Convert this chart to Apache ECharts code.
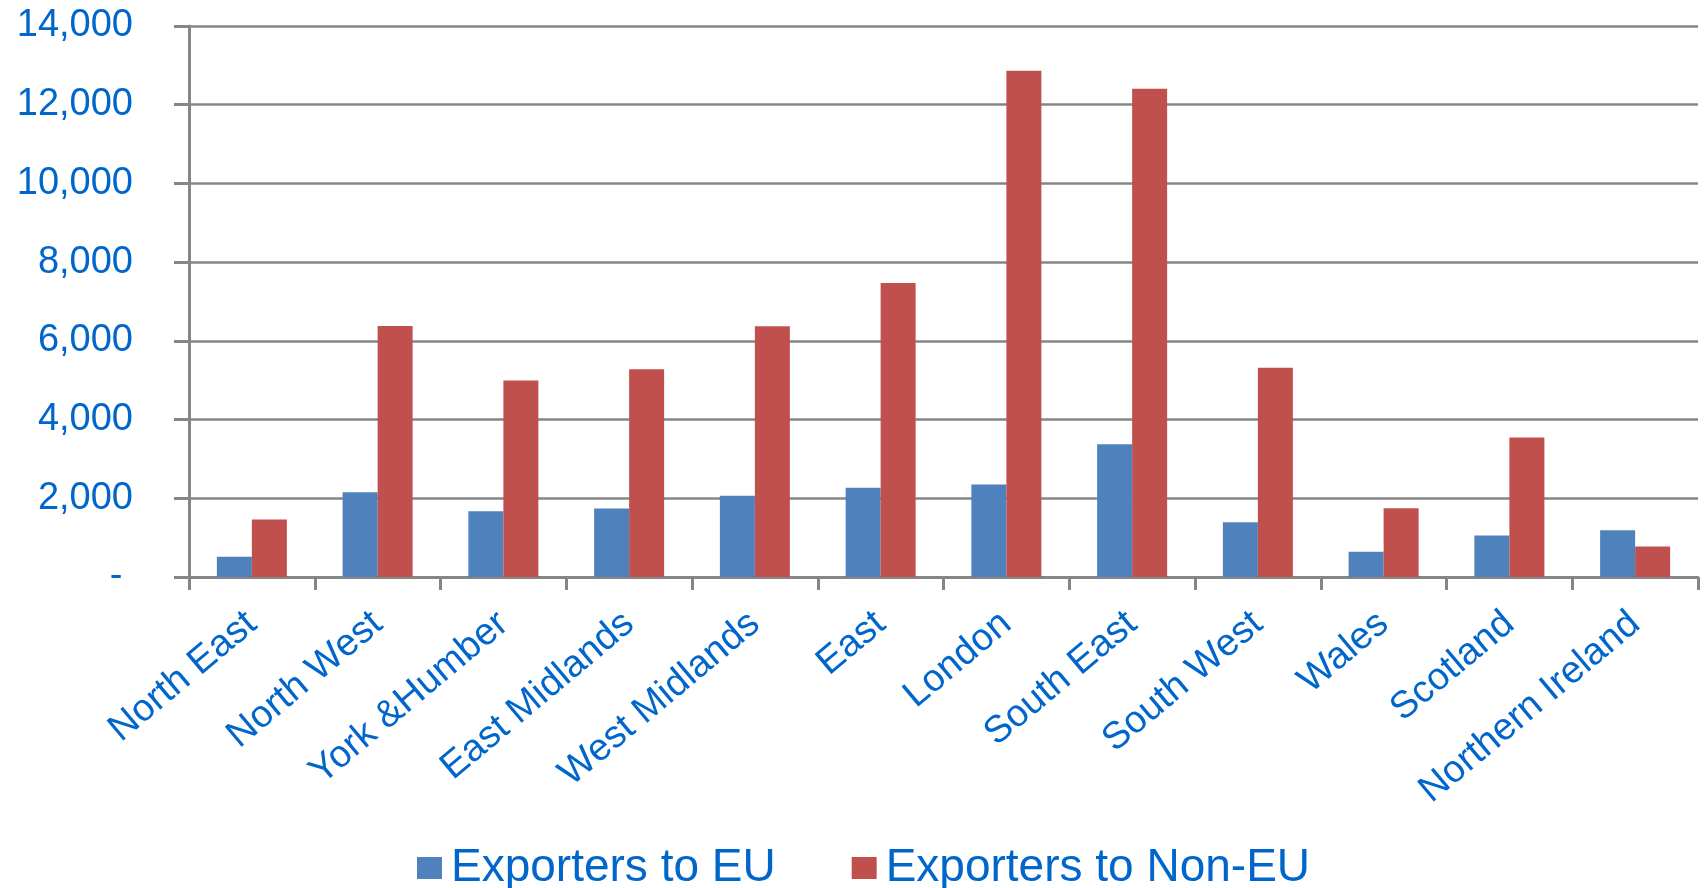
<!DOCTYPE html>
<html>
<head>
<meta charset="utf-8">
<script src="https://cdn.jsdelivr.net/npm/echarts@6/dist/echarts.min.js"></script>
<style>
html,body{margin:0;padding:0;background:#fff;}
#chart{width:1704px;height:888px;}
</style>
</head>
<body>
<div id="chart"></div>
<script>
var categories = ['North East','North West','York &Humber','East Midlands','West Midlands','East','London','South East','South West','Wales','Scotland','Northern Ireland'];
var euValues = [515, 2155, 1670, 1740, 2065, 2268, 2352, 3370, 1390, 640, 1055, 1188];
var nonEuValues = [1462, 6375, 4990, 5278, 6370, 7470, 12865, 12405, 5315, 1748, 3545, 775];
var seriesNames = ['Exporters to EU', 'Exporters to Non-EU'];
var yTicks = {min: 0, max: 14000, interval: 2000};

var textColor = '#0066cc';
var axisGray = '#868686';
var font = "'Liberation Sans', Arial, sans-serif";

var chart = echarts.init(document.getElementById('chart'), null, {renderer: 'canvas'});
chart.setOption({
  animation: false,
  backgroundColor: '#ffffff',
  grid: {left: 189, right: 6, top: 26, bottom: 311, containLabel: false},
  legend: {
    data: seriesNames,
    left: 417,
    top: 845,
    padding: 0,
    itemWidth: 25,
    itemHeight: 22,
    itemGap: 76,
    icon: 'rect',
    textStyle: {color: textColor, fontSize: 46, fontFamily: font, padding: [0, 0, 0, 4]}
  },
  xAxis: {
    type: 'category',
    data: categories,
    boundaryGap: true,
    axisLine: {show: true, lineStyle: {color: axisGray, width: 3}},
    axisTick: {show: true, length: 13, lineStyle: {color: axisGray, width: 3}},
    axisLabel: {
      interval: 0,
      rotate: 40,
      margin: 42,
      color: textColor,
      fontSize: 38,
      fontFamily: font
    },
    splitLine: {show: false}
  },
  yAxis: {
    type: 'value',
    min: yTicks.min,
    max: yTicks.max,
    interval: yTicks.interval,
    axisLine: {show: true, lineStyle: {color: axisGray, width: 3}},
    axisTick: {show: true, length: 15, lineStyle: {color: axisGray, width: 3}},
    axisLabel: {
      margin: 56,
      color: textColor,
      fontSize: 38,
      fontFamily: font,
      formatter: function (v) { return v === 0 ? '- ' : v.toLocaleString('en-US'); }
    },
    splitLine: {show: true, lineStyle: {color: axisGray, width: 2.5}}
  },
  series: [
    {
      name: seriesNames[0],
      type: 'bar',
      data: euValues,
      barWidth: 35,
      barGap: '0%',
      itemStyle: {color: '#4f81bd'}
    },
    {
      name: seriesNames[1],
      type: 'bar',
      data: nonEuValues,
      barWidth: 35,
      barGap: '0%',
      itemStyle: {color: '#c0504d'}
    }
  ]
});
</script>
</body>
</html>
